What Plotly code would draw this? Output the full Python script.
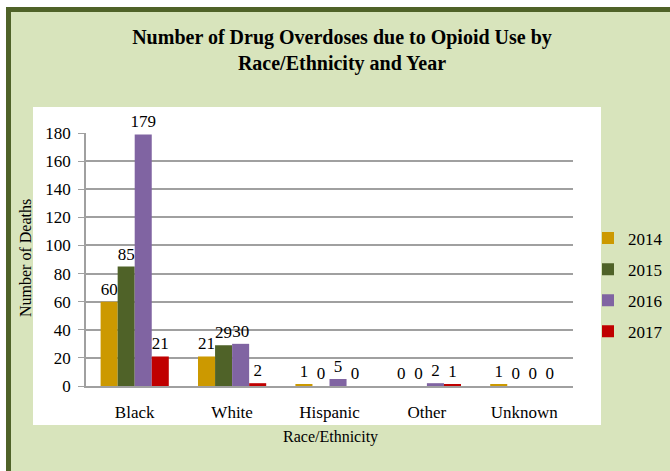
import plotly.graph_objects as go

categories = ["Black", "White", "Hispanic", "Other", "Unknown"]
years = ["2014", "2015", "2016", "2017"]
values_2014 = [60, 21, 1, 0, 1]
values_2015 = [85, 29, 0, 0, 0]
values_2016 = [179, 30, 5, 2, 0]
values_2017 = [21, 2, 0, 1, 0]
series = [values_2014, values_2015, values_2016, values_2017]
colors = ["#CC9900", "#4F6228", "#8064A2", "#C00000"]

FONT = "Liberation Serif, Times New Roman, serif"

W, H = 670, 471
L, R, T, B = 86, 97, 133, 85
PW, PH = W - L - R, H - T - B


def px(x):
    return (x - L) / PW


def py(y):
    return (H - B - y) / PH


fig = go.Figure()
for yr, vals, col in zip(years, series, colors):
    fig.add_trace(go.Bar(
        name=yr, x=categories, y=vals, marker=dict(color=col, line=dict(width=0)),
        text=[str(v) for v in vals], textposition="outside", constraintext="none",
        textfont=dict(family=FONT, size=17, color="black"),
        cliponaxis=False, legendgroup=yr,
    ))

shapes = [
    # white margins outside the frame
    dict(type="rect", xref="paper", yref="paper", x0=px(-50), x1=px(6), y0=py(600), y1=py(-50),
         fillcolor="white", line=dict(width=0), layer="below"),
    dict(type="rect", xref="paper", yref="paper", x0=px(-50), x1=px(800), y0=py(7), y1=py(-50),
         fillcolor="white", line=dict(width=0), layer="below"),
    # frame lines (left and top)
    dict(type="line", xref="paper", yref="paper", x0=px(8.5), x1=px(8.5), y0=py(600), y1=py(7),
         line=dict(color="#4F6228", width=5), layer="below"),
    dict(type="line", xref="paper", yref="paper", x0=px(6), x1=px(800), y0=py(9.5), y1=py(9.5),
         line=dict(color="#4F6228", width=5), layer="below"),
    # white plot panel
    dict(type="rect", xref="paper", yref="paper", x0=px(33), x1=px(601), y0=py(425), y1=py(107),
         fillcolor="white", line=dict(width=0), layer="below"),
]

annotations = [
    dict(text="Number of Deaths", xref="paper", yref="paper", x=px(25), y=py(258),
         textangle=-90, showarrow=False, font=dict(family=FONT, size=16, color="black"),
         xanchor="center", yanchor="middle"),
    dict(text="Race/Ethnicity", xref="paper", yref="paper", x=px(330), y=py(437),
         showarrow=False, font=dict(family=FONT, size=16, color="black"),
         xanchor="center", yanchor="middle"),
]

fig.update_layout(
    width=W, height=H,
    margin=dict(l=L, r=R, t=T, b=B, autoexpand=False),
    paper_bgcolor="#D8E4BC", plot_bgcolor="rgba(0,0,0,0)",
    font=dict(family=FONT, size=16, color="black"),
    title=dict(text="<b>Number of Drug Overdoses due to Opioid Use by<br>Race/Ethnicity and Year</b>",
               x=342 / W, xref="container", xanchor="center",
               y=1 - 44 / H, yref="container", yanchor="top",
               font=dict(family=FONT, size=20, color="black")),
    barmode="group", bargap=0.30, bargroupgap=0,
    showlegend=True,
    legend=dict(x=px(588), xanchor="left", y=py(285), yanchor="middle",
                font=dict(family=FONT, size=17, color="black"),
                bgcolor="rgba(0,0,0,0)", tracegroupgap=6, traceorder="grouped"),
    shapes=shapes, annotations=annotations,
)
fig.update_yaxes(range=[0, 180], dtick=20, showgrid=True, gridcolor="#A0A0A0", gridwidth=1.5,
                 zeroline=False, showline=True, linecolor="#A0A0A0", linewidth=1.5,
                 ticks="outside", ticklen=6, tickcolor="#A0A0A0", ticklabelstandoff=4,
                 tickfont=dict(family=FONT, size=17, color="black"))
fig.update_xaxes(showline=True, linecolor="#A0A0A0", linewidth=1.5, ticks="",
                 ticklabelstandoff=10,
                 tickfont=dict(family=FONT, size=17, color="black"))

fig.write_html("out.html")
